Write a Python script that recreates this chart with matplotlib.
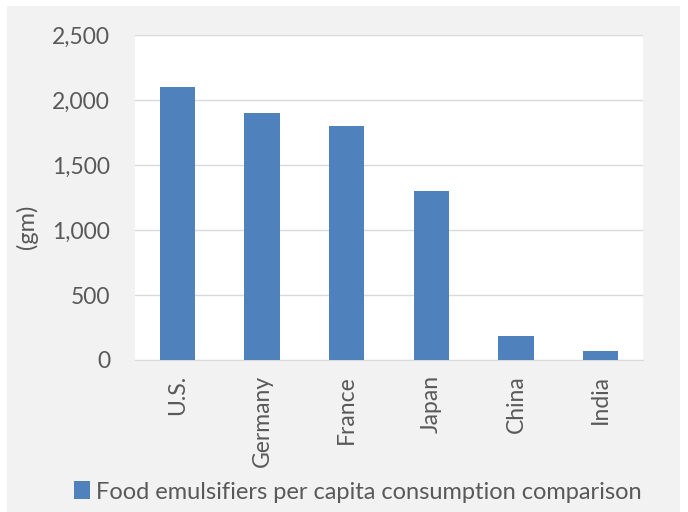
import matplotlib

matplotlib.use("Agg")
import matplotlib.pyplot as plt  # noqa: E402
from matplotlib.patches import Rectangle  # noqa: E402
from matplotlib.ticker import FuncFormatter  # noqa: E402

countries = ["U.S.", "Germany", "France", "Japan", "China", "India"]
consumption = [2100, 1900, 1800, 1300, 185, 70]
y_ticks = [0, 500, 1000, 1500, 2000, 2500]
series_name = "Food emulsifiers per capita consumption comparison"

BAR = "#4F81BD"
TXT = "#595959"
GRID = "#D9D9D9"

plt.rcParams["font.family"] = ["Lato", "DejaVu Sans"]

fig = plt.figure(figsize=(6.88, 5.12), dpi=100)
fig.patch.set_facecolor("white")
# grey chart panel
fig.patches.append(Rectangle((7 / 688, 0), 673 / 688, 506 / 512,
                             transform=fig.transFigure, facecolor="#F2F2F2",
                             edgecolor="none", zorder=-1))

ax = fig.add_axes([135 / 688, 152 / 512, 508 / 688, 325 / 512])
ax.set_facecolor("white")
ax.bar(countries, consumption, width=0.42, color=BAR, zorder=3,
       label=series_name)

ax.set_ylim(0, 2500)
ax.set_yticks(y_ticks)
ax.yaxis.set_major_formatter(FuncFormatter(lambda v, _: f"{int(v):,}"))
ax.grid(axis="y", color=GRID, linewidth=1, zorder=0)
ax.set_xlim(-0.5, len(countries) - 0.5)
for side in ["top", "left", "right"]:
    ax.spines[side].set_visible(False)
ax.spines["bottom"].set_color(GRID)
ax.tick_params(axis="both", length=0, labelcolor=TXT, labelsize=16.5)
ax.tick_params(axis="y", pad=18)
ax.tick_params(axis="x", pad=11, labelrotation=90)
ax.set_ylabel("(gm)", color=TXT, fontsize=17)
ax.yaxis.set_label_coords(-0.19, 0.41)

fig.legend(loc="center", bbox_to_anchor=(358 / 688, 20 / 512), frameon=False,
           fontsize=17, labelcolor=TXT, handlelength=0.7, handleheight=0.8,
           handletextpad=0.25)

fig.savefig("out.png", dpi=100)
